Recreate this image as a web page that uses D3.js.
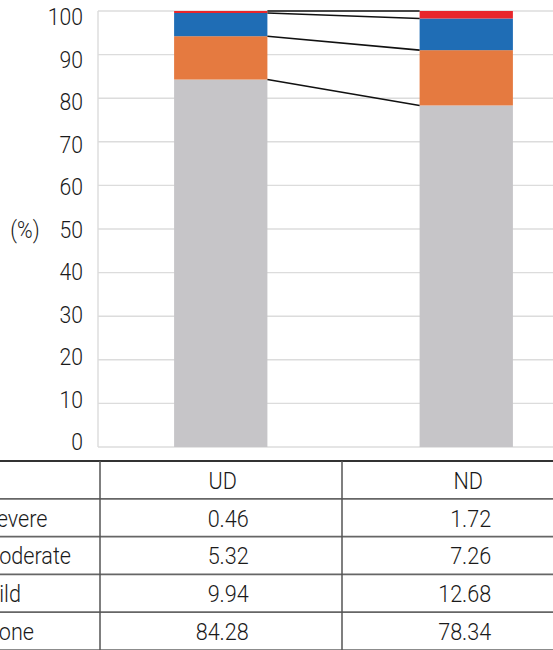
<!DOCTYPE html>
<html><head><meta charset="utf-8">
<script src="https://cdn.jsdelivr.net/npm/d3@7"></script>
<style>
html,body{margin:0;padding:0;background:#fff;overflow:hidden}
svg{display:block}
text{font-family:Roboto,"Liberation Sans",Arial,sans-serif;font-weight:300;fill:#1a1a1a}
</style></head>
<body>
<svg id="c" width="553" height="650"></svg>
<script>
const categories = ["UD", "ND"];
const severities = ["Severe", "Moderate", "Mild", "None"];
const valuesUD = [0.46, 5.32, 9.94, 84.28];
const valuesND = [1.72, 7.26, 12.68, 78.34];
const yTicks = [0,10,20,30,40,50,60,70,80,90,100];
const colors = {None:"#c6c5c8", Mild:"#e57a40", Moderate:"#1f6db5", Severe:"#e8262b"};

const svg = d3.select("#c");
const W = 553, H = 650;
const plotL = 98, plotT = 11, plotB = 447;
const SX = 0.9;

const y = d3.scaleLinear().domain([0,100]).range([plotB, plotT]);
// tick labels sit on a slightly tighter scale in the reference
const yLab = d3.scaleLinear().domain([0,100]).range([441.7, 16.7]);
const x = d3.scaleBand().domain(categories).range([plotL, 589]).paddingInner(0.62).paddingOuter(0.31);

// gridlines
svg.append("g").selectAll("line").data(yTicks).join("line")
  .attr("x1", plotL).attr("x2", W).attr("y1", d=>y(d)).attr("y2", d=>y(d))
  .attr("stroke", "#dcdcdc").attr("stroke-width", 1.4);
svg.append("line").attr("x1", plotL).attr("x2", plotL).attr("y1", plotT).attr("y2", plotB)
  .attr("stroke", "#dcdcdc").attr("stroke-width", 1.4);

function sText(g, str, tx, ty, anchor, size) {
  return g.append("text").attr("transform", `translate(${tx},${ty}) scale(${SX},1)`)
    .attr("text-anchor", anchor).attr("dominant-baseline", "central")
    .style("font-size", size + "px").text(str);
}
const axisG = svg.append("g");
yTicks.forEach(t => sText(axisG, String(t), 83, yLab(t), "end", 23.5));
sText(axisG, "(%)", 25, yLab(50), "middle", 23.5);

// stacked data
const series = categories.map((c, i) => {
  const vals = i === 0 ? valuesUD : valuesND;
  const m = {}; severities.forEach((s, j) => m[s] = vals[j]);
  return Object.assign({cat: c}, m);
});
const order = ["None", "Mild", "Moderate", "Severe"];
const stack = d3.stack().keys(order)(series);

const barG = svg.append("g");
stack.forEach(layer => {
  barG.selectAll(null).data(layer).join("rect")
    .attr("x", d => x(d.data.cat)).attr("width", x.bandwidth())
    .attr("y", d => y(d[1])).attr("height", d => y(d[0]) - y(d[1]))
    .attr("fill", colors[layer.key]);
});

// connector lines
const connG = svg.append("g");
stack.forEach(layer => {
  const a = layer[0], b = layer[1];
  connG.append("line")
    .attr("x1", x(a.data.cat) + x.bandwidth()).attr("y1", y(a[1]))
    .attr("x2", x(b.data.cat)).attr("y2", y(b[1]))
    .attr("stroke", "#111").attr("stroke-width", 1.6);
});

// table
const tblTop = 461, rowH = 37.8;
const tG = svg.append("g");
const nRows = severities.length + 1;
for (let r = 0; r <= nRows; r++) {
  const yy = tblTop + r * rowH;
  tG.append("line").attr("x1", 0).attr("x2", W).attr("y1", yy).attr("y2", yy)
    .attr("stroke", r === 0 ? "#333" : "#666").attr("stroke-width", r === 0 ? 2 : 1.7);
}
const colSep = [plotL + 2, (x("UD") + x("ND") + x.bandwidth()) / 2 - 1.5];
colSep.forEach(cx => tG.append("line").attr("x1", cx).attr("x2", cx)
  .attr("y1", tblTop).attr("y2", H).attr("stroke", "#555").attr("stroke-width", 1.5));

const TF = 24;
const labelX = [-16, -19.5, -19.5, -16.5];
categories.forEach(c => sText(tG, c, x(c) + x.bandwidth()/2 + 2, tblTop + rowH/2 + 1, "middle", TF));
severities.forEach((s, j) => {
  const ry = tblTop + (j + 1) * rowH + rowH/2 + 1;
  sText(tG, s, labelX[j], ry, "start", TF);
  sText(tG, valuesUD[j].toFixed(2), x("UD") + x.bandwidth()/2 + 28, ry, "end", TF);
  sText(tG, valuesND[j].toFixed(2), x("ND") + x.bandwidth()/2 + 25, ry, "end", TF);
});
</script>
</body></html>
